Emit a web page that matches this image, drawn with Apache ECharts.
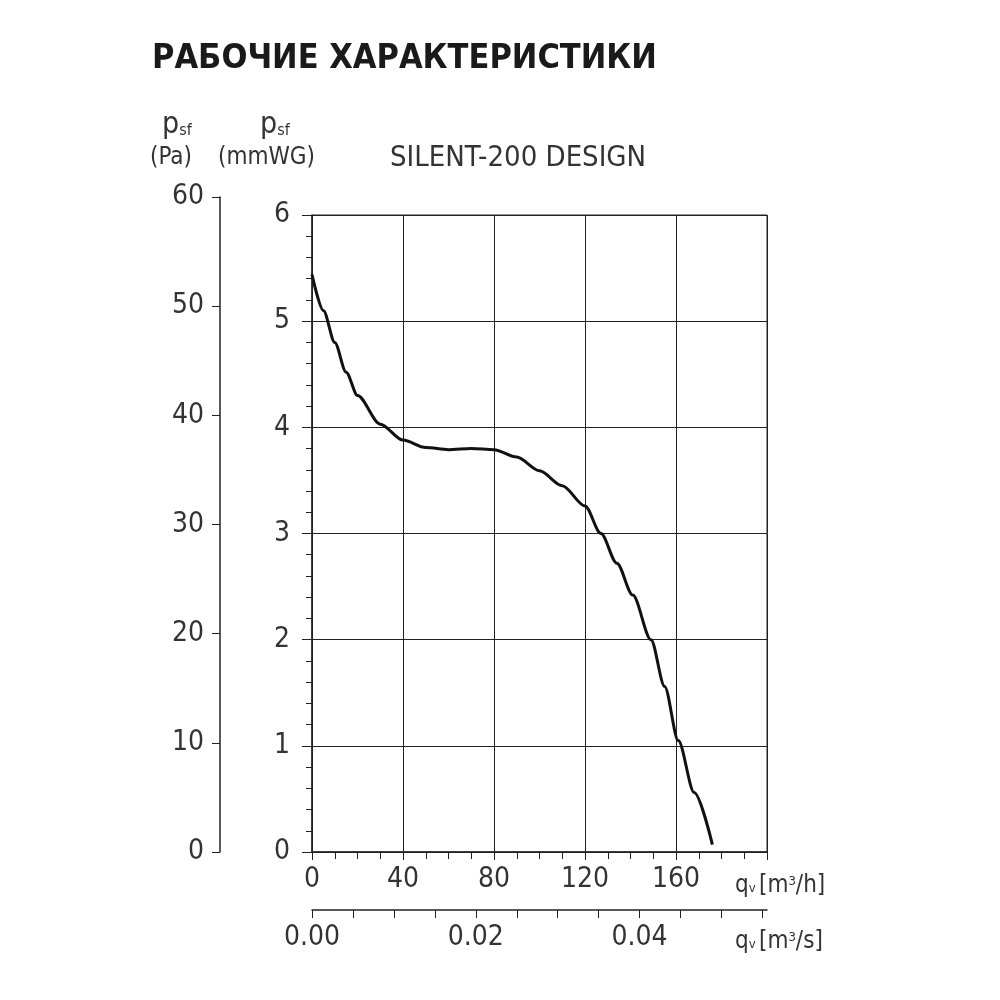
<!DOCTYPE html>
<html><head><meta charset="utf-8">
<script src="https://cdn.jsdelivr.net/npm/echarts@6/dist/echarts.min.js"></script>
<style>html,body{margin:0;background:#fff}#chart{width:1000px;height:1000px}</style>
</head><body><div id="chart"></div>
<script>
// flow rate, m3/h
const flowM3h = [0, 5, 10, 15, 20, 30, 40, 50, 60, 70, 80, 90, 100, 110, 120, 127, 134, 141, 149, 155, 161, 168, 176];
// static pressure, mmWG
const pressureMmWG = [5.44, 5.1, 4.8, 4.52, 4.3, 4.03, 3.88, 3.81, 3.79, 3.8, 3.79, 3.72, 3.59, 3.45, 3.26, 3.0, 2.72, 2.42, 2.0, 1.56, 1.05, 0.56, 0.07];
const paTicks = [0, 10, 20, 30, 40, 50, 60];

const font = "'Liberation Sans Narrow', 'DejaVu Sans Condensed', sans-serif";
const ink = '#222';
const label = { fontFamily: font, fontSize: 28, color: '#333' };

const chart = echarts.init(document.getElementById('chart'));
chart.setOption({
    animation: false,
    textStyle: { fontFamily: font },
    grid: [
        { left: 312, right: 233, top: 215, bottom: 148, show: true, borderColor: ink, borderWidth: 1 },
        { left: 220, width: 1, top: 197, bottom: 148 }
    ],
    xAxis: [
        {
            gridIndex: 0, type: 'value', min: 0, max: 200, interval: 40,
            axisLine: { lineStyle: { color: ink, width: 1.5 } },
            axisTick: { length: 8, lineStyle: { color: ink } },
            minorTick: { show: true, splitNumber: 4, length: 7, lineStyle: { color: ink } },
            splitLine: { lineStyle: { color: ink, width: 1 } },
            axisLabel: Object.assign({}, label, { margin: 14, formatter: v => v === 200 ? '' : v })
        },
        {
            gridIndex: 0, type: 'value', position: 'bottom', offset: 58,
            min: 0, max: 200 / 3600, interval: 0.005,
            axisLine: { onZero: false, lineStyle: { color: ink, width: 1.5 } },
            axisTick: { length: 8, lineStyle: { color: ink } },
            splitLine: { show: false },
            axisLabel: Object.assign({}, label, {
                margin: 14, showMaxLabel: false,
                formatter: v => Math.round(v * 1000) % 20 === 0 ? v.toFixed(2) : ''
            })
        },
        { gridIndex: 1, type: 'value', show: false }
    ],
    yAxis: [
        {
            gridIndex: 0, type: 'value', min: 0, max: 6, interval: 1,
            axisLine: { lineStyle: { color: ink, width: 1.5 } },
            axisTick: { length: 10, lineStyle: { color: ink } },
            minorTick: { show: true, splitNumber: 5, length: 6, lineStyle: { color: ink } },
            splitLine: { lineStyle: { color: ink, width: 1 } },
            axisLabel: Object.assign({}, label, { margin: 22 })
        },
        {
            gridIndex: 1, type: 'value', min: 0, max: 60, interval: 10,
            axisLine: { lineStyle: { color: ink, width: 1.5 } },
            axisTick: { length: 8, lineStyle: { color: ink } },
            splitLine: { show: false },
            axisLabel: Object.assign({}, label, { margin: 16, formatter: v => paTicks.includes(v) ? v : '' })
        }
    ],
    series: [{
        type: 'line', xAxisIndex: 0, yAxisIndex: 0,
        data: flowM3h.map((q, i) => [q, pressureMmWG[i]]),
        smooth: 0.3, smoothMonotone: 'x', showSymbol: false,
        lineStyle: { color: '#111', width: 3 }
    }],
    graphic: [
        { type: 'text', left: 152, top: 42, style: { text: 'РАБОЧИЕ ХАРАКТЕРИСТИКИ', font: "bold 34px 'DejaVu Sans Condensed', sans-serif", fill: '#1a1a1a' } },
        { type: 'text', left: 390, top: 144, style: { text: 'SILENT-200 DESIGN', font: "29px " + font, fill: '#333' } },
        { type: 'text', left: 162, top: 110, style: { rich: { p: { fontSize: 30, fontFamily: font, fill: '#333' }, s: { fontSize: 16, fontFamily: font, fill: '#333', padding: [12, 0, 0, 0] } }, text: '{p|p}{s|sf}' } },
        { type: 'text', left: 150, top: 146, style: { text: '(Pa)', font: "24px " + font, fill: '#333' } },
        { type: 'text', left: 260, top: 110, style: { rich: { p: { fontSize: 30, fontFamily: font, fill: '#333' }, s: { fontSize: 16, fontFamily: font, fill: '#333', padding: [12, 0, 0, 0] } }, text: '{p|p}{s|sf}' } },
        { type: 'text', left: 218, top: 146, style: { text: '(mmWG)', font: "24px " + font, fill: '#333' } },
        { type: 'text', left: 735, top: 874, style: { rich: { q: { fontSize: 24, fontFamily: font, fill: '#333' }, v: { fontSize: 13, fontFamily: font, fill: '#333', padding: [6, 0, 0, 0] }, t: { fontSize: 24, fontFamily: font, fill: '#333' }, u: { fontSize: 13, fontFamily: font, fill: '#333', padding: [0, 0, 9, 0] } }, text: '{q|q}{v|v} {t|[m}{u|3}{t|/h]}' } },
        { type: 'text', left: 735, top: 930, style: { rich: { q: { fontSize: 24, fontFamily: font, fill: '#333' }, v: { fontSize: 13, fontFamily: font, fill: '#333', padding: [6, 0, 0, 0] }, t: { fontSize: 24, fontFamily: font, fill: '#333' }, u: { fontSize: 13, fontFamily: font, fill: '#333', padding: [0, 0, 9, 0] } }, text: '{q|q}{v|v} {t|[m}{u|3}{t|/s]}' } }
    ]
});
</script></body></html>
